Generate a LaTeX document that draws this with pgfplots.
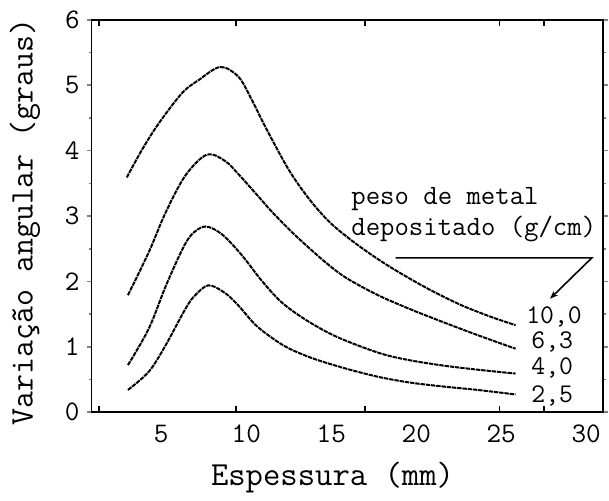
\documentclass[border=0pt]{standalone}
\usepackage{fontspec}
\renewcommand{\familydefault}{\ttdefault}
\usepackage{pgfplots}
\pgfplotsset{compat=1.18}
\usetikzlibrary{arrows.meta}
\begin{document}
\begin{tikzpicture}
\begin{axis}[
  scale only axis, width=257bp, height=197bp,
  xmin=0.9, xmax=31, ymin=0, ymax=6,
  clip=false,
  axis line style={line width=0.9bp},
  xtick={5,10,...,30},
  xticklabels={5,10,15,20,25,30},
  xtick style={draw=none},
  extra x ticks={1.35,9.4,17.0,24.9,27.5},
  extra x tick labels={},
  extra x tick style={xtick style={draw=black, line width=0.8bp}, major tick length=3bp},
  xtick align=inside,
  ytick={0,...,6},
  yticklabels={0,1,2,3,4,5,6},
  minor ytick={0.5,1.5,...,5.5},
  ytick style={line width=0.8bp},
  ytick align=outside,
  major tick length=2.5bp, minor tick length=1.5bp,
  ticklabel style={font=\ttfamily\fontsize{14.3}{16}\selectfont},
  xticklabel style={yshift=-3bp},
  xlabel={Espessura (mm)},
  ylabel={Variação angular (graus)},
  xlabel style={font=\ttfamily\fontsize{17}{19}\selectfont, at={(rel axis cs:0.471,-0.168)}, anchor=center},
  ylabel style={font=\ttfamily\fontsize{16.6}{19}\selectfont, at={(rel axis cs:-0.130,0.485)}, anchor=center, rotate=0},
  curve/.style={black, no markers, line width=1bp, dash pattern=on 2.2bp off 0.45bp, smooth, tension=0.55},
]
% 10,0
\addplot[curve] coordinates {
(2.97,3.59) (3.88,4.02) (4.86,4.42) (6.22,4.88) (7.20,5.08) (8.47,5.28) (9.54,5.13)
(10.32,4.78) (11.11,4.37) (12.47,3.72) (13.64,3.28) (14.81,2.93) (15.98,2.67)
(17.35,2.41) (18.72,2.18) (20.67,1.89) (22.62,1.64) (24.37,1.46) (25.84,1.33)};
% 6,3
\addplot[curve] coordinates {
(3.04,1.79) (4.27,2.45) (5.25,3.05) (6.42,3.62) (7.69,3.94) (8.76,3.84) (9.54,3.64)
(10.71,3.30) (11.49,3.07) (12.66,2.76) (13.83,2.48) (14.81,2.26) (15.90,2.05)
(17.74,1.79) (19.69,1.57) (21.65,1.37) (23.59,1.18) (25.84,0.97)};
% 4,0
\addplot[curve] coordinates {
(3.04,0.72) (4.27,1.28) (5.25,1.92) (6.22,2.48) (6.80,2.72) (7.59,2.84) (8.57,2.72)
(9.74,2.40) (10.91,2.01) (12.08,1.68) (13.45,1.42) (15.01,1.19) (16.57,1.02)
(18.13,0.88) (19.69,0.79) (21.65,0.71) (23.59,0.65) (25.84,0.59)};
% 2,5
\addplot[curve] coordinates {
(3.04,0.34) (4.27,0.62) (5.25,1.02) (6.42,1.58) (7.00,1.79) (7.79,1.94) (8.76,1.82)
(9.54,1.63) (10.52,1.34) (11.49,1.14) (12.47,0.98) (13.83,0.83) (15.40,0.70)
(16.96,0.59) (18.13,0.52) (19.69,0.45) (21.65,0.39) (23.59,0.34) (25.84,0.27)};

\node[anchor=west, inner sep=0pt, font=\ttfamily\fontsize{14.1}{16}\selectfont] at (axis cs:16.16,3.26) {peso de metal};
\node[anchor=west, inner sep=0pt, font=\ttfamily\fontsize{14.1}{16}\selectfont] at (axis cs:16.16,2.80) {depositado (g/cm)};
\draw[line width=0.8bp, -{Stealth[length=4bp,width=3bp]}] (axis cs:18.79,2.36) -- (axis cs:30.33,2.36) -- (axis cs:27.87,1.735);
\node[anchor=west, inner sep=0pt, font=\ttfamily\fontsize{13.6}{15}\selectfont] at (axis cs:26.45,1.46) {10,0};
\node[anchor=west, inner sep=0pt, font=\ttfamily\fontsize{13.6}{15}\selectfont] at (axis cs:26.75,1.07) {6,3};
\node[anchor=west, inner sep=0pt, font=\ttfamily\fontsize{13.6}{15}\selectfont] at (axis cs:26.75,0.68) {4,0};
\node[anchor=west, inner sep=0pt, font=\ttfamily\fontsize{13.6}{15}\selectfont] at (axis cs:26.75,0.25) {2,5};
\path (rel axis cs:-0.179,-0.198) rectangle (rel axis cs:1.0058,1.0508);
\end{axis}
\end{tikzpicture}
\end{document}
